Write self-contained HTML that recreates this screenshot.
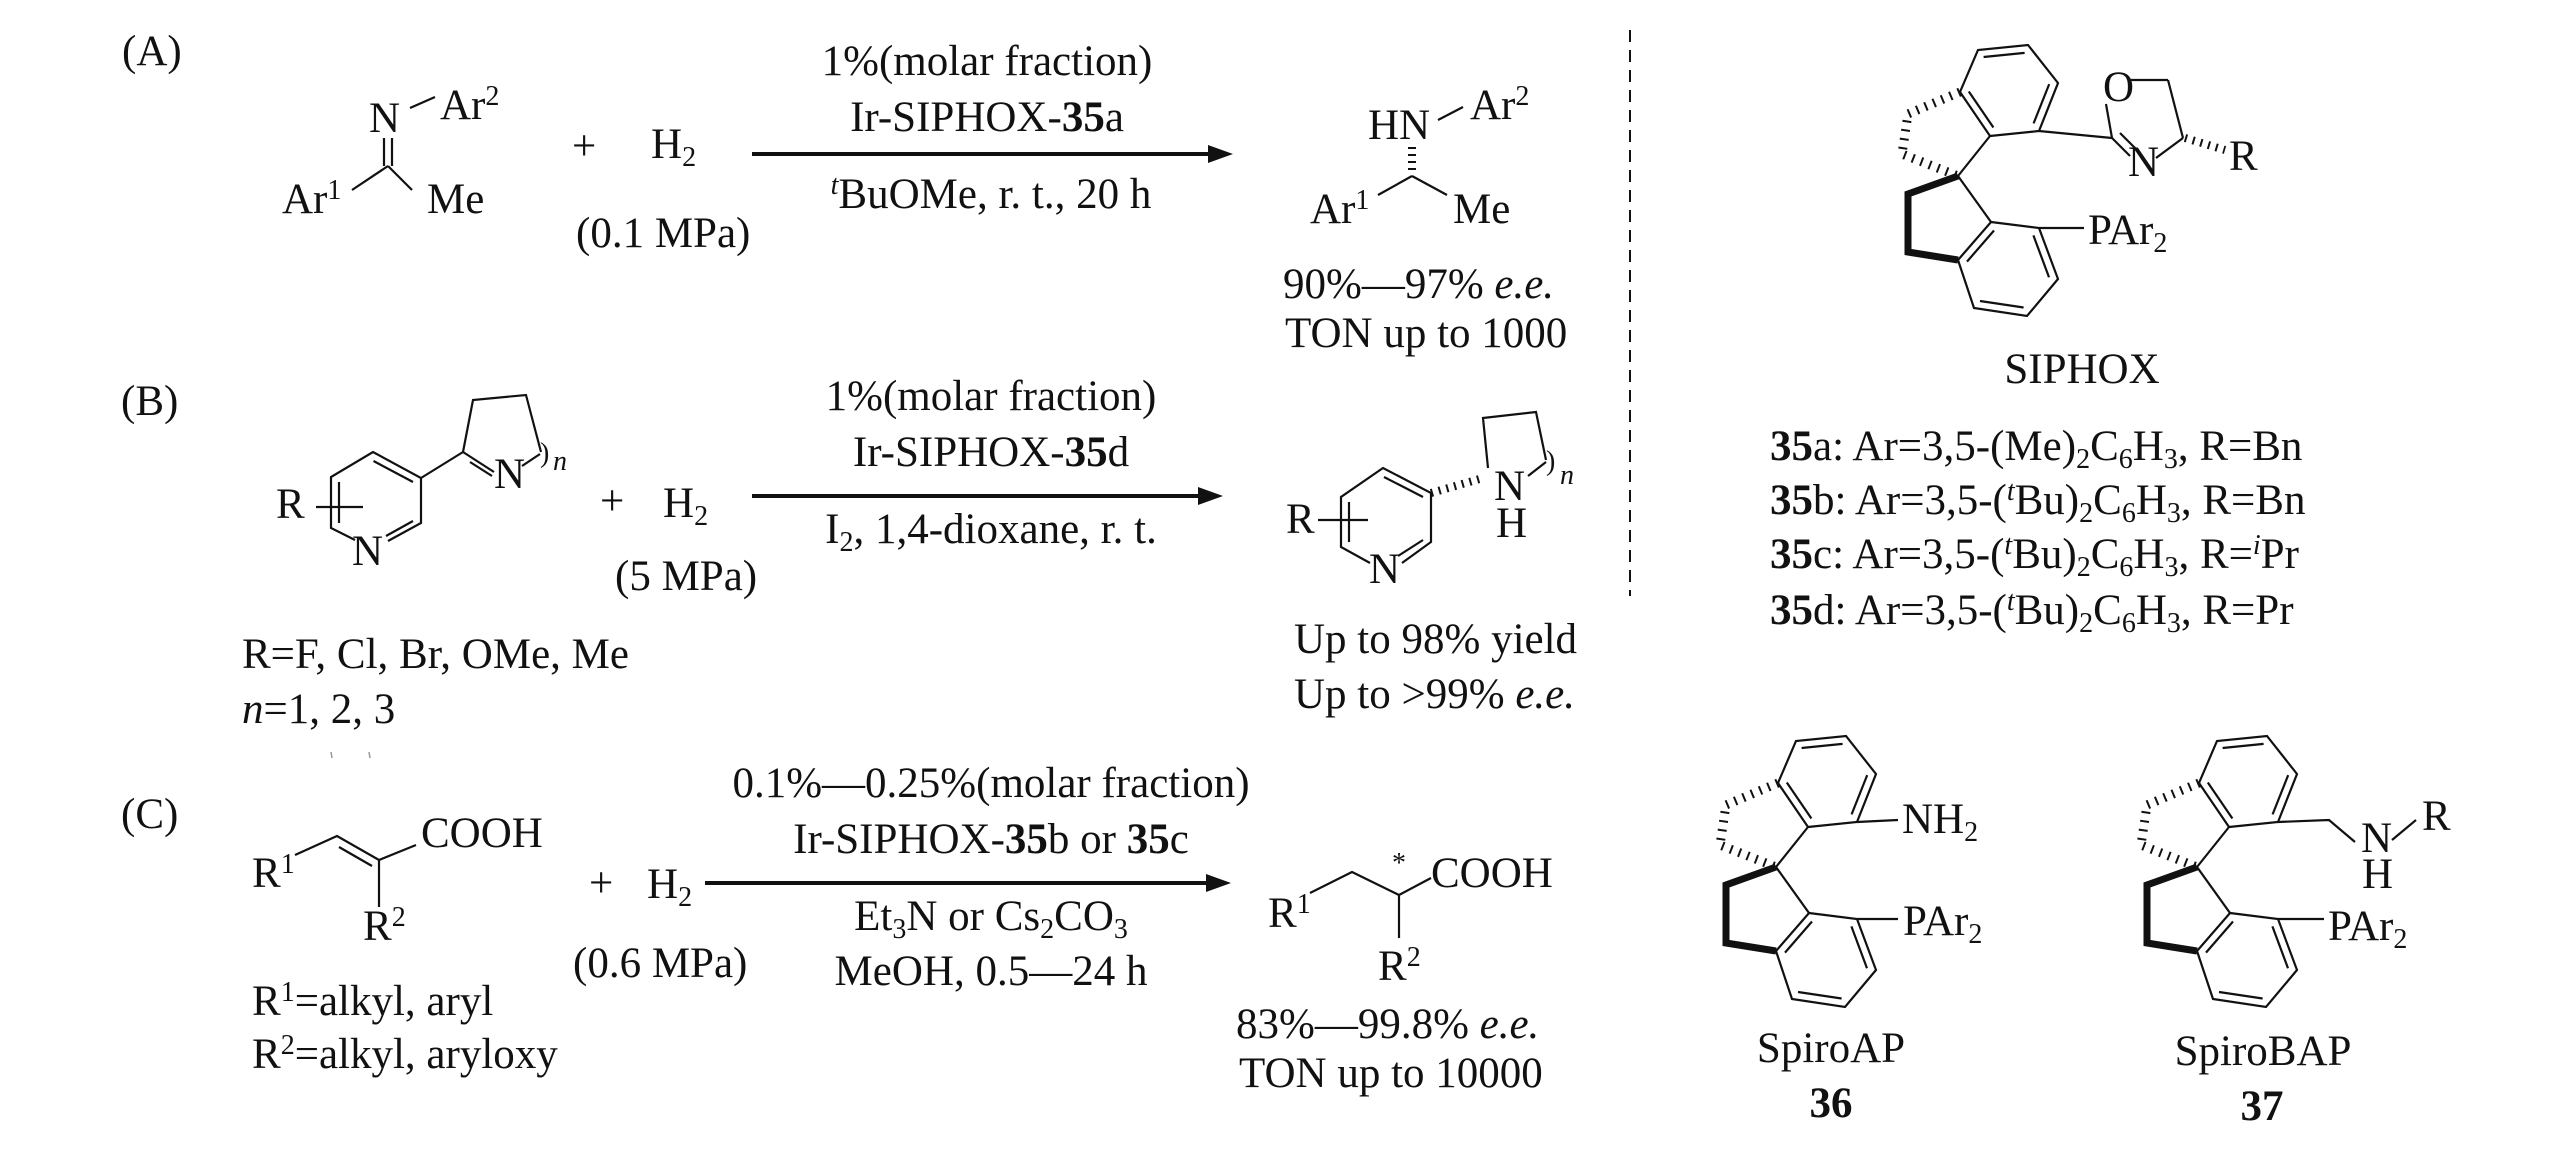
<!DOCTYPE html>
<html><head><meta charset="utf-8"><style>
html,body{margin:0;padding:0;background:#fff;}
svg{display:block;}
text{font-family:"Liberation Serif",serif;font-size:43px;fill:#111;}
.s{font-size:28px;}
</style></head><body>
<svg width="2567" height="1150" viewBox="0 0 2567 1150" xmlns="http://www.w3.org/2000/svg">
<defs>
<g id="spiro" fill="none" stroke="#111" stroke-width="2.2">
  <polygon points="32,-40 81,-45 100,-93 70,-131 20,-126 2,-84"/>
  <line x1="66.6" y1="-123.1" x2="25.6" y2="-119"/>
  <line x1="75.6" y1="-52.6" x2="91.2" y2="-91.9"/>
  <line x1="10.8" y1="-84.5" x2="35.4" y2="-48.5"/>
  <polygon points="33,46 81,52 100,103 69,140 16,132 0,84"/>
  <line x1="36" y1="54.5" x2="9" y2="85.6"/>
  <line x1="75.4" y1="59.4" x2="91" y2="101.2"/>
  <line x1="65.6" y1="131.5" x2="22" y2="125"/>
  <line x1="0" y1="0" x2="32" y2="-40"/>
  <line x1="0" y1="0" x2="33" y2="46"/>
  <polyline points="0,0 -50,18 -50,76 0,84" stroke-width="7" stroke-linejoin="miter"/>
  <polyline points="2,-84 -50,-62 -56,-22 0,0" stroke-width="9" stroke-dasharray="2 7"/>
</g>
</defs>

<!-- ===== (A) ===== -->
<text x="122" y="65">(A)</text>
<g stroke="#111" stroke-width="2.2" fill="none">
  <line x1="410" y1="108" x2="435" y2="97"/>
  <line x1="384" y1="138" x2="384" y2="166"/>
  <line x1="392" y1="138" x2="392" y2="166"/>
  <line x1="388" y1="166" x2="352" y2="190"/>
  <line x1="388" y1="166" x2="412" y2="190"/>
</g>
<text x="369" y="132">N</text>
<text x="440" y="119">Ar<tspan class="s" dy="-14">2</tspan></text>
<text x="282" y="213">Ar<tspan class="s" dy="-14">1</tspan></text>
<text x="427" y="213">Me</text>
<text x="572" y="160">+</text>
<text x="651" y="158">H<tspan class="s" dy="8">2</tspan></text>
<text x="576" y="247">(0.1 MPa)</text>
<line x1="752" y1="154" x2="1212" y2="154" stroke="#111" stroke-width="4"/>
<polygon points="1233,154 1208,145 1208,163" fill="#111"/>
<text x="987" y="75" text-anchor="middle">1%(molar fraction)</text>
<text x="987" y="131" text-anchor="middle">Ir-SIPHOX-<tspan font-weight="bold">35</tspan>a</text>
<text x="991" y="208" text-anchor="middle"><tspan class="s" font-style="italic" dy="-14">t</tspan><tspan dy="14">BuOMe, r. t., 20 h</tspan></text>
<!-- product A -->
<text x="1368" y="139">HN</text>
<text x="1470" y="119">Ar<tspan class="s" dy="-14">2</tspan></text>
<g stroke="#111" stroke-width="2.2" fill="none">
  <line x1="1438" y1="120" x2="1463" y2="107"/>
  <line x1="1412" y1="147" x2="1412" y2="172" stroke-width="8" stroke-dasharray="2 5"/>
  <line x1="1412" y1="176" x2="1378" y2="195"/>
  <line x1="1412" y1="176" x2="1447" y2="195"/>
</g>
<text x="1310" y="223">Ar<tspan class="s" dy="-14">1</tspan></text>
<text x="1453" y="223">Me</text>
<text x="1283" y="298">90%—97% <tspan font-style="italic">e.e.</tspan></text>
<text x="1285" y="347">TON up to 1000</text>

<!-- dashed divider -->
<line x1="1630" y1="30" x2="1630" y2="596" stroke="#111" stroke-width="2" stroke-dasharray="12 8"/>

<!-- ===== (B) ===== -->
<text x="121" y="415">(B)</text>
<g stroke="#111" stroke-width="2.2" fill="none">
  <polyline points="355,540 331,528 331,477 373,452 421,478 421,523 388,541"/>
  <line x1="373.5" y1="461" x2="413" y2="482"/>
  <line x1="339" y1="482" x2="339" y2="523"/>
  <line x1="413" y1="521" x2="386" y2="536"/>
  <line x1="316" y1="507" x2="363" y2="507"/>
  <line x1="421" y1="478" x2="463" y2="452"/>
  <polyline points="463,452 473,400 526,395 541,452"/>
  <line x1="463" y1="452" x2="494" y2="472"/>
  <line x1="470" y1="462" x2="492" y2="476"/>
  <line x1="522" y1="466" x2="540" y2="454"/>
</g>
<text x="352" y="565">N</text>
<text x="276" y="518">R</text>
<text x="494" y="488">N</text>
<text x="540" y="462" class="s">)</text>
<text x="553" y="470" class="s" font-style="italic">n</text>
<text x="600" y="515">+</text>
<text x="663" y="517">H<tspan class="s" dy="8">2</tspan></text>
<text x="615" y="590">(5 MPa)</text>
<line x1="752" y1="496" x2="1202" y2="496" stroke="#111" stroke-width="4"/>
<polygon points="1223,496 1198,487 1198,505" fill="#111"/>
<text x="991" y="410" text-anchor="middle">1%(molar fraction)</text>
<text x="991" y="466" text-anchor="middle">Ir-SIPHOX-<tspan font-weight="bold">35</tspan>d</text>
<text x="991" y="543" text-anchor="middle">I<tspan class="s" dy="8">2</tspan><tspan dy="-8">, 1,4-dioxane, r. t.</tspan></text>
<text x="242" y="668">R=F, Cl, Br, OMe, Me</text>
<text x="242" y="723"><tspan font-style="italic">n</tspan>=1, 2, 3</text>
<g stroke="#999" stroke-width="1.5"><line x1="331" y1="752" x2="332" y2="758"/><line x1="369" y1="752" x2="370" y2="758"/></g>
<!-- product B -->
<g stroke="#111" stroke-width="2.2" fill="none">
  <polyline points="1370,563 1341,547 1341,497 1383,468 1431,493 1431,542 1402,563"/>
  <line x1="1384" y1="477" x2="1423" y2="497"/>
  <line x1="1349" y1="502" x2="1349" y2="542"/>
  <line x1="1423" y1="540" x2="1398" y2="556"/>
  <line x1="1318" y1="520" x2="1368" y2="520"/>
  <line x1="1431" y1="493" x2="1483" y2="478" stroke-width="8" stroke-dasharray="2 6"/>
  <polyline points="1488,468 1483,418 1536,412 1546,460"/>
  <line x1="1528" y1="476" x2="1546" y2="462"/>
</g>
<text x="1369" y="583">N</text>
<text x="1286" y="533">R</text>
<text x="1494" y="500">N</text>
<text x="1496" y="537">H</text>
<text x="1546" y="470" class="s">)</text>
<text x="1560" y="484" class="s" font-style="italic">n</text>
<text x="1294" y="653">Up to 98% yield</text>
<text x="1294" y="708">Up to &gt;99% <tspan font-style="italic">e.e.</tspan></text>

<!-- ===== (C) ===== -->
<text x="121" y="828">(C)</text>
<g stroke="#111" stroke-width="2.2" fill="none">
  <polyline points="295,855 337,836 379,860 416,845"/>
  <line x1="339" y1="847" x2="372" y2="866"/>
  <line x1="379" y1="860" x2="379" y2="907"/>
</g>
<text x="421" y="847">COOH</text>
<text x="252" y="887">R<tspan class="s" dy="-14">1</tspan></text>
<text x="363" y="940">R<tspan class="s" dy="-14">2</tspan></text>
<text x="589" y="897">+</text>
<text x="647" y="898">H<tspan class="s" dy="8">2</tspan></text>
<text x="573" y="977">(0.6 MPa)</text>
<line x1="705" y1="883" x2="1210" y2="883" stroke="#111" stroke-width="4"/>
<polygon points="1231,883 1206,874 1206,892" fill="#111"/>
<text x="991" y="797" text-anchor="middle">0.1%—0.25%(molar fraction)</text>
<text x="991" y="853" text-anchor="middle">Ir-SIPHOX-<tspan font-weight="bold">35</tspan>b or <tspan font-weight="bold">35</tspan>c</text>
<text x="991" y="930" text-anchor="middle">Et<tspan class="s" dy="8">3</tspan><tspan dy="-8">N or Cs</tspan><tspan class="s" dy="8">2</tspan><tspan dy="-8">CO</tspan><tspan class="s" dy="8">3</tspan></text>
<text x="991" y="985" text-anchor="middle">MeOH, 0.5—24 h</text>
<text x="252" y="1015">R<tspan class="s" dy="-14">1</tspan><tspan dy="14">=alkyl, aryl</tspan></text>
<text x="252" y="1068">R<tspan class="s" dy="-14">2</tspan><tspan dy="14">=alkyl, aryloxy</tspan></text>
<!-- product C -->
<g stroke="#111" stroke-width="2.2" fill="none">
  <polyline points="1310,893 1352,872 1399,895 1431,878"/>
  <line x1="1399" y1="895" x2="1399" y2="938"/>
</g>
<text x="1392" y="872" class="s">*</text>
<text x="1431" y="887">COOH</text>
<text x="1268" y="927">R<tspan class="s" dy="-14">1</tspan></text>
<text x="1378" y="980">R<tspan class="s" dy="-14">2</tspan></text>
<text x="1236" y="1038">83%—99.8% <tspan font-style="italic">e.e.</tspan></text>
<text x="1239" y="1087">TON up to 10000</text>

<!-- ===== SIPHOX ===== -->
<use href="#spiro" transform="translate(1958,176)"/>
<g stroke="#111" stroke-width="2.2" fill="none">
  <line x1="2039" y1="131" x2="2112" y2="138"/>
  <line x1="2112" y1="138" x2="2106" y2="104"/>
  <line x1="2131" y1="80" x2="2168" y2="80"/>
  <line x1="2168" y1="80" x2="2183" y2="138"/>
  <line x1="2183" y1="138" x2="2156" y2="158"/>
  <line x1="2112" y1="138" x2="2130" y2="156"/>
  <line x1="2120" y1="133" x2="2136" y2="149"/>
  <line x1="2185" y1="138" x2="2225" y2="150" stroke-width="8" stroke-dasharray="2 6"/>
  <line x1="2039" y1="228" x2="2084" y2="228"/>
</g>
<text x="2103" y="101">O</text>
<text x="2128" y="176">N</text>
<text x="2229" y="170">R</text>
<text x="2088" y="244">PAr<tspan class="s" dy="8">2</tspan></text>
<text x="2082" y="383" text-anchor="middle">SIPHOX</text>
<text x="1770" y="460"><tspan font-weight="bold">35</tspan>a: Ar=3,5-(Me)<tspan class="s" dy="8">2</tspan><tspan dy="-8">C</tspan><tspan class="s" dy="8">6</tspan><tspan dy="-8">H</tspan><tspan class="s" dy="8">3</tspan><tspan dy="-8">, R=Bn</tspan></text>
<text x="1770" y="514"><tspan font-weight="bold">35</tspan>b: Ar=3,5-(<tspan class="s" font-style="italic" dy="-14">t</tspan><tspan dy="14">Bu)</tspan><tspan class="s" dy="8">2</tspan><tspan dy="-8">C</tspan><tspan class="s" dy="8">6</tspan><tspan dy="-8">H</tspan><tspan class="s" dy="8">3</tspan><tspan dy="-8">, R=Bn</tspan></text>
<text x="1770" y="568"><tspan font-weight="bold">35</tspan>c: Ar=3,5-(<tspan class="s" font-style="italic" dy="-14">t</tspan><tspan dy="14">Bu)</tspan><tspan class="s" dy="8">2</tspan><tspan dy="-8">C</tspan><tspan class="s" dy="8">6</tspan><tspan dy="-8">H</tspan><tspan class="s" dy="8">3</tspan><tspan dy="-8">, R=</tspan><tspan class="s" font-style="italic" dy="-14">i</tspan><tspan dy="14">Pr</tspan></text>
<text x="1770" y="624"><tspan font-weight="bold">35</tspan>d: Ar=3,5-(<tspan class="s" font-style="italic" dy="-14">t</tspan><tspan dy="14">Bu)</tspan><tspan class="s" dy="8">2</tspan><tspan dy="-8">C</tspan><tspan class="s" dy="8">6</tspan><tspan dy="-8">H</tspan><tspan class="s" dy="8">3</tspan><tspan dy="-8">, R=Pr</tspan></text>

<!-- ===== SpiroAP ===== -->
<use href="#spiro" transform="translate(1776,867)"/>
<g stroke="#111" stroke-width="2.2">
  <line x1="1857" y1="822" x2="1898" y2="820"/>
  <line x1="1857" y1="919" x2="1898" y2="919"/>
</g>
<text x="1902" y="833">NH<tspan class="s" dy="8">2</tspan></text>
<text x="1903" y="935">PAr<tspan class="s" dy="8">2</tspan></text>
<text x="1831" y="1062" text-anchor="middle">SpiroAP</text>
<text x="1831" y="1117" text-anchor="middle" font-weight="bold">36</text>

<!-- ===== SpiroBAP ===== -->
<use href="#spiro" transform="translate(2197,867)"/>
<g stroke="#111" stroke-width="2.2" fill="none">
  <polyline points="2278,822 2329,820 2355,842"/>
  <line x1="2392" y1="840" x2="2416" y2="820"/>
  <line x1="2278" y1="919" x2="2324" y2="919"/>
</g>
<text x="2361" y="852">N</text>
<text x="2362" y="888">H</text>
<text x="2422" y="830">R</text>
<text x="2328" y="940">PAr<tspan class="s" dy="8">2</tspan></text>
<text x="2263" y="1065" text-anchor="middle">SpiroBAP</text>
<text x="2262" y="1120" text-anchor="middle" font-weight="bold">37</text>
</svg>
</body></html>
